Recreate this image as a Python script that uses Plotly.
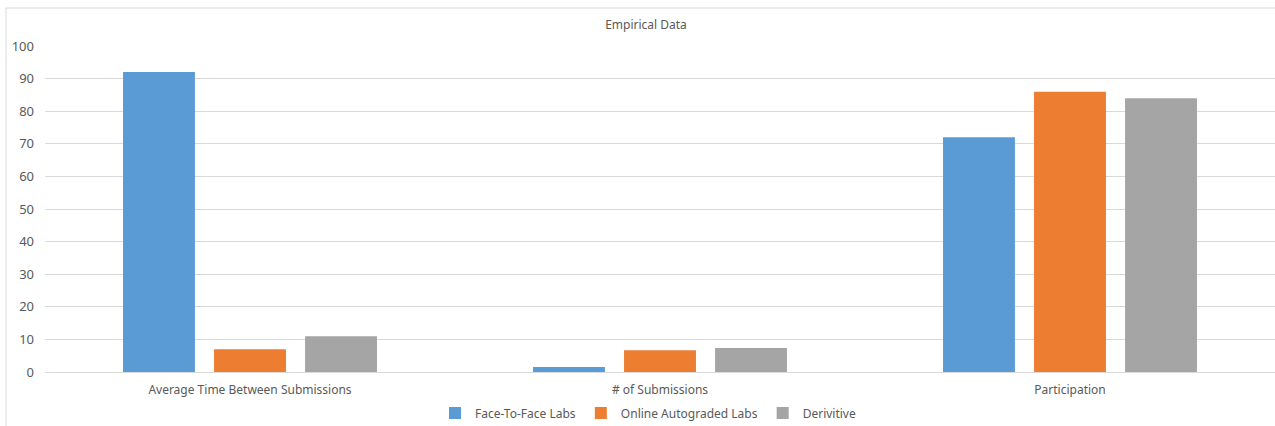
import plotly.graph_objects as go

categories = ["Average Time Between Submissions", "# of Submissions", "Participation"]
series_names = ["Face-To-Face Labs", "Online Autograded Labs", "Derivitive"]
face_to_face = [92, 1.5, 72]
online_autograded = [7, 6.7, 86]
derivitive = [11, 7.4, 84]
colors = ["#5b9bd5", "#ed7d31", "#a5a5a5"]
y_ticks = [0, 10, 20, 30, 40, 50, 60, 70, 80, 90, 100]

FONT = "Noto Sans"
TXT = "#595959"

fig = go.Figure()
for name, vals, col in zip(series_names, [face_to_face, online_autograded, derivitive], colors):
    fig.add_trace(go.Bar(x=categories, y=vals, name=name, marker=dict(color=col, line=dict(width=0))))

W, H = 1275, 426
ml, mr, mt, mb = 45, 0, 46, 54
pw, ph = W - ml - mr, H - mt - mb

fig.update_layout(
    width=W, height=H,
    margin=dict(l=ml, r=mr, t=mt, b=mb, autoexpand=False),
    paper_bgcolor="white", plot_bgcolor="white",
    barmode="group", bargap=0.334, bargroupgap=0.21,
    title=dict(text="Empirical Data", x=646 / W,
               xanchor="center", y=1 - 25 / H, yanchor="middle",
               font=dict(family=FONT, size=12, color=TXT)),
    font=dict(family=FONT, size=12, color=TXT),
    legend=dict(orientation="h", xref="container", x=648 / W, xanchor="center",
                yref="container", y=1 - 413 / H, yanchor="middle",
                font=dict(family=FONT, size=12, color=TXT), itemwidth=30, traceorder="normal"),
    xaxis=dict(showgrid=False, showline=False, ticks="", ticklabelstandoff=9,
               tickfont=dict(family=FONT, size=12, color=TXT)),
    yaxis=dict(range=[0, 100], tickvals=y_ticks, showgrid=True, gridcolor="#d9d9d9", gridwidth=1,
               zeroline=True, zerolinecolor="#d9d9d9", zerolinewidth=1, showline=False, ticks="",
               tickfont=dict(family=FONT, size=13, color=TXT), ticklabelstandoff=10),
    shapes=[dict(type="rect", xref="paper", yref="paper",
                 x0=(6 - ml) / pw, x1=1.05, y0=-0.5, y1=1 + (mt - 8) / ph,
                 line=dict(color="#d9d9d9", width=1), fillcolor="rgba(0,0,0,0)", layer="below")],
)
fig.write_html("out.html")
